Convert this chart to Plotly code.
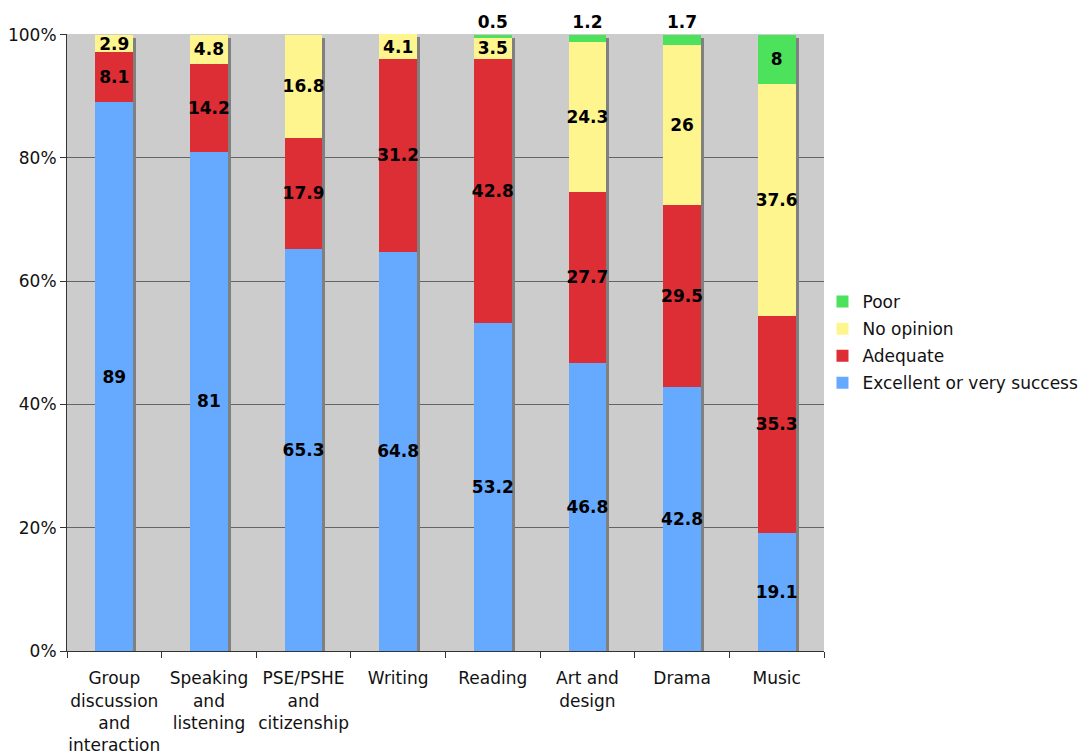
import plotly.graph_objects as go

# Subjects (x categories) and the share of ratings in each band (%)
categories = [
    "Group<br>discussion<br>and<br>interaction",
    "Speaking<br>and<br>listening",
    "PSE/PSHE<br>and<br>citizenship",
    "Writing",
    "Reading",
    "Art and<br>design",
    "Drama",
    "Music",
]
excellent = [89, 81, 65.3, 64.8, 53.2, 46.8, 42.8, 19.1]
adequate = [8.1, 14.2, 17.9, 31.2, 42.8, 27.7, 29.5, 35.3]
no_opinion = [2.9, 4.8, 16.8, 4.1, 3.5, 24.3, 26, 37.6]
poor = [None, None, None, None, 0.5, 1.2, 1.7, 8]

series_names = ["Excellent or very successful", "Adequate", "No opinion", "Poor"]
y_ticks = [0, 20, 40, 60, 80, 100]
y_ticktext = [f"{t}%" for t in y_ticks]

colors = ["#66AAFF", "#DD2D35", "#FFF58F", "#4DE25C"]
FONT = "DejaVu Sans, Verdana, sans-serif"
W, H = 1078, 753
M_L, M_R, M_T, M_B = 67, 254, 34, 102
BAR_W = 0.4
Y_TOP = 100.1  # leaves room for columns whose rounded shares add up past 100

fig = go.Figure()

# drop shadow behind each stacked column (drawn on the base axes, below the bars)
totals = [sum(v for v in col if v is not None) for col in zip(excellent, adequate, no_opinion, poor)]
slot_px = (W - M_L - M_R) / len(categories)
dx = 3 / slot_px
dy = 3 / (H - M_T - M_B) * Y_TOP
fig.add_trace(go.Bar(
    x=categories, y=totals, base=-dy,
    width=BAR_W, offset=-BAR_W / 2 + dx,
    marker=dict(color="#808080", line=dict(width=0)),
    showlegend=False, hoverinfo="skip",
    xaxis="x", yaxis="y",
))


def fmt(v):
    return "" if v is None else f"{v:g}"


series = [excellent, adequate, no_opinion, poor]
n_series = len(series)
for i, (name, vals, col) in enumerate(zip(series_names, series, colors)):
    if vals is poor:
        pos = ["outside" if (v is not None and v < 3) else "inside" for v in vals]
    else:
        pos = "inside"
    fig.add_trace(go.Bar(
        name=name, legendgroup=name, legendrank=n_series - i,
        x=categories, y=vals,
        width=BAR_W,
        marker=dict(color=col, line=dict(width=0)),
        text=[fmt(v) for v in vals], textposition=pos,
        insidetextanchor="middle", textangle=0,
        textfont=dict(family=FONT, size=17, color="black", weight="bold"),
        cliponaxis=False, constraintext="none",
        xaxis="x2", yaxis="y2",
    ))

fig.update_layout(
    width=W, height=H,
    margin=dict(l=M_L, r=M_R, t=M_T, b=M_B, autoexpand=False),
    paper_bgcolor="white", plot_bgcolor="#CCCCCC",
    barmode="stack",
    uniformtext=dict(minsize=17, mode="show"),
    font=dict(family=FONT, size=17, color="#111111"),
    xaxis=dict(
        type="category", range=[-0.5, len(categories) - 0.5],
        tickson="boundaries", ticks="outside", ticklen=6, tickcolor="#333",
        tickangle=0, ticklabelstandoff=12,
        showline=True, linecolor="#333", linewidth=1,
        showgrid=False, tickfont=dict(size=17), fixedrange=True,
    ),
    yaxis=dict(
        range=[0, Y_TOP], tickvals=y_ticks, ticktext=y_ticktext,
        ticks="outside", ticklen=6, tickcolor="#333",
        showline=True, linecolor="#333", linewidth=1,
        showgrid=True, gridcolor="#646464", gridwidth=1,
        zeroline=False, tickfont=dict(size=17),
    ),
    xaxis2=dict(
        type="category", range=[-0.5, len(categories) - 0.5],
        overlaying="x", visible=False, showgrid=False,
    ),
    yaxis2=dict(
        range=[0, Y_TOP], overlaying="y", visible=False, showgrid=False,
    ),
    legend=dict(
        x=0.998, xanchor="left", y=0.5, yanchor="middle",
        traceorder="grouped", tracegroupgap=2,
        bgcolor="rgba(0,0,0,0)",
        font=dict(size=17, color="#111111"),
    ),
    showlegend=True,
)

fig.write_html("out.html")
